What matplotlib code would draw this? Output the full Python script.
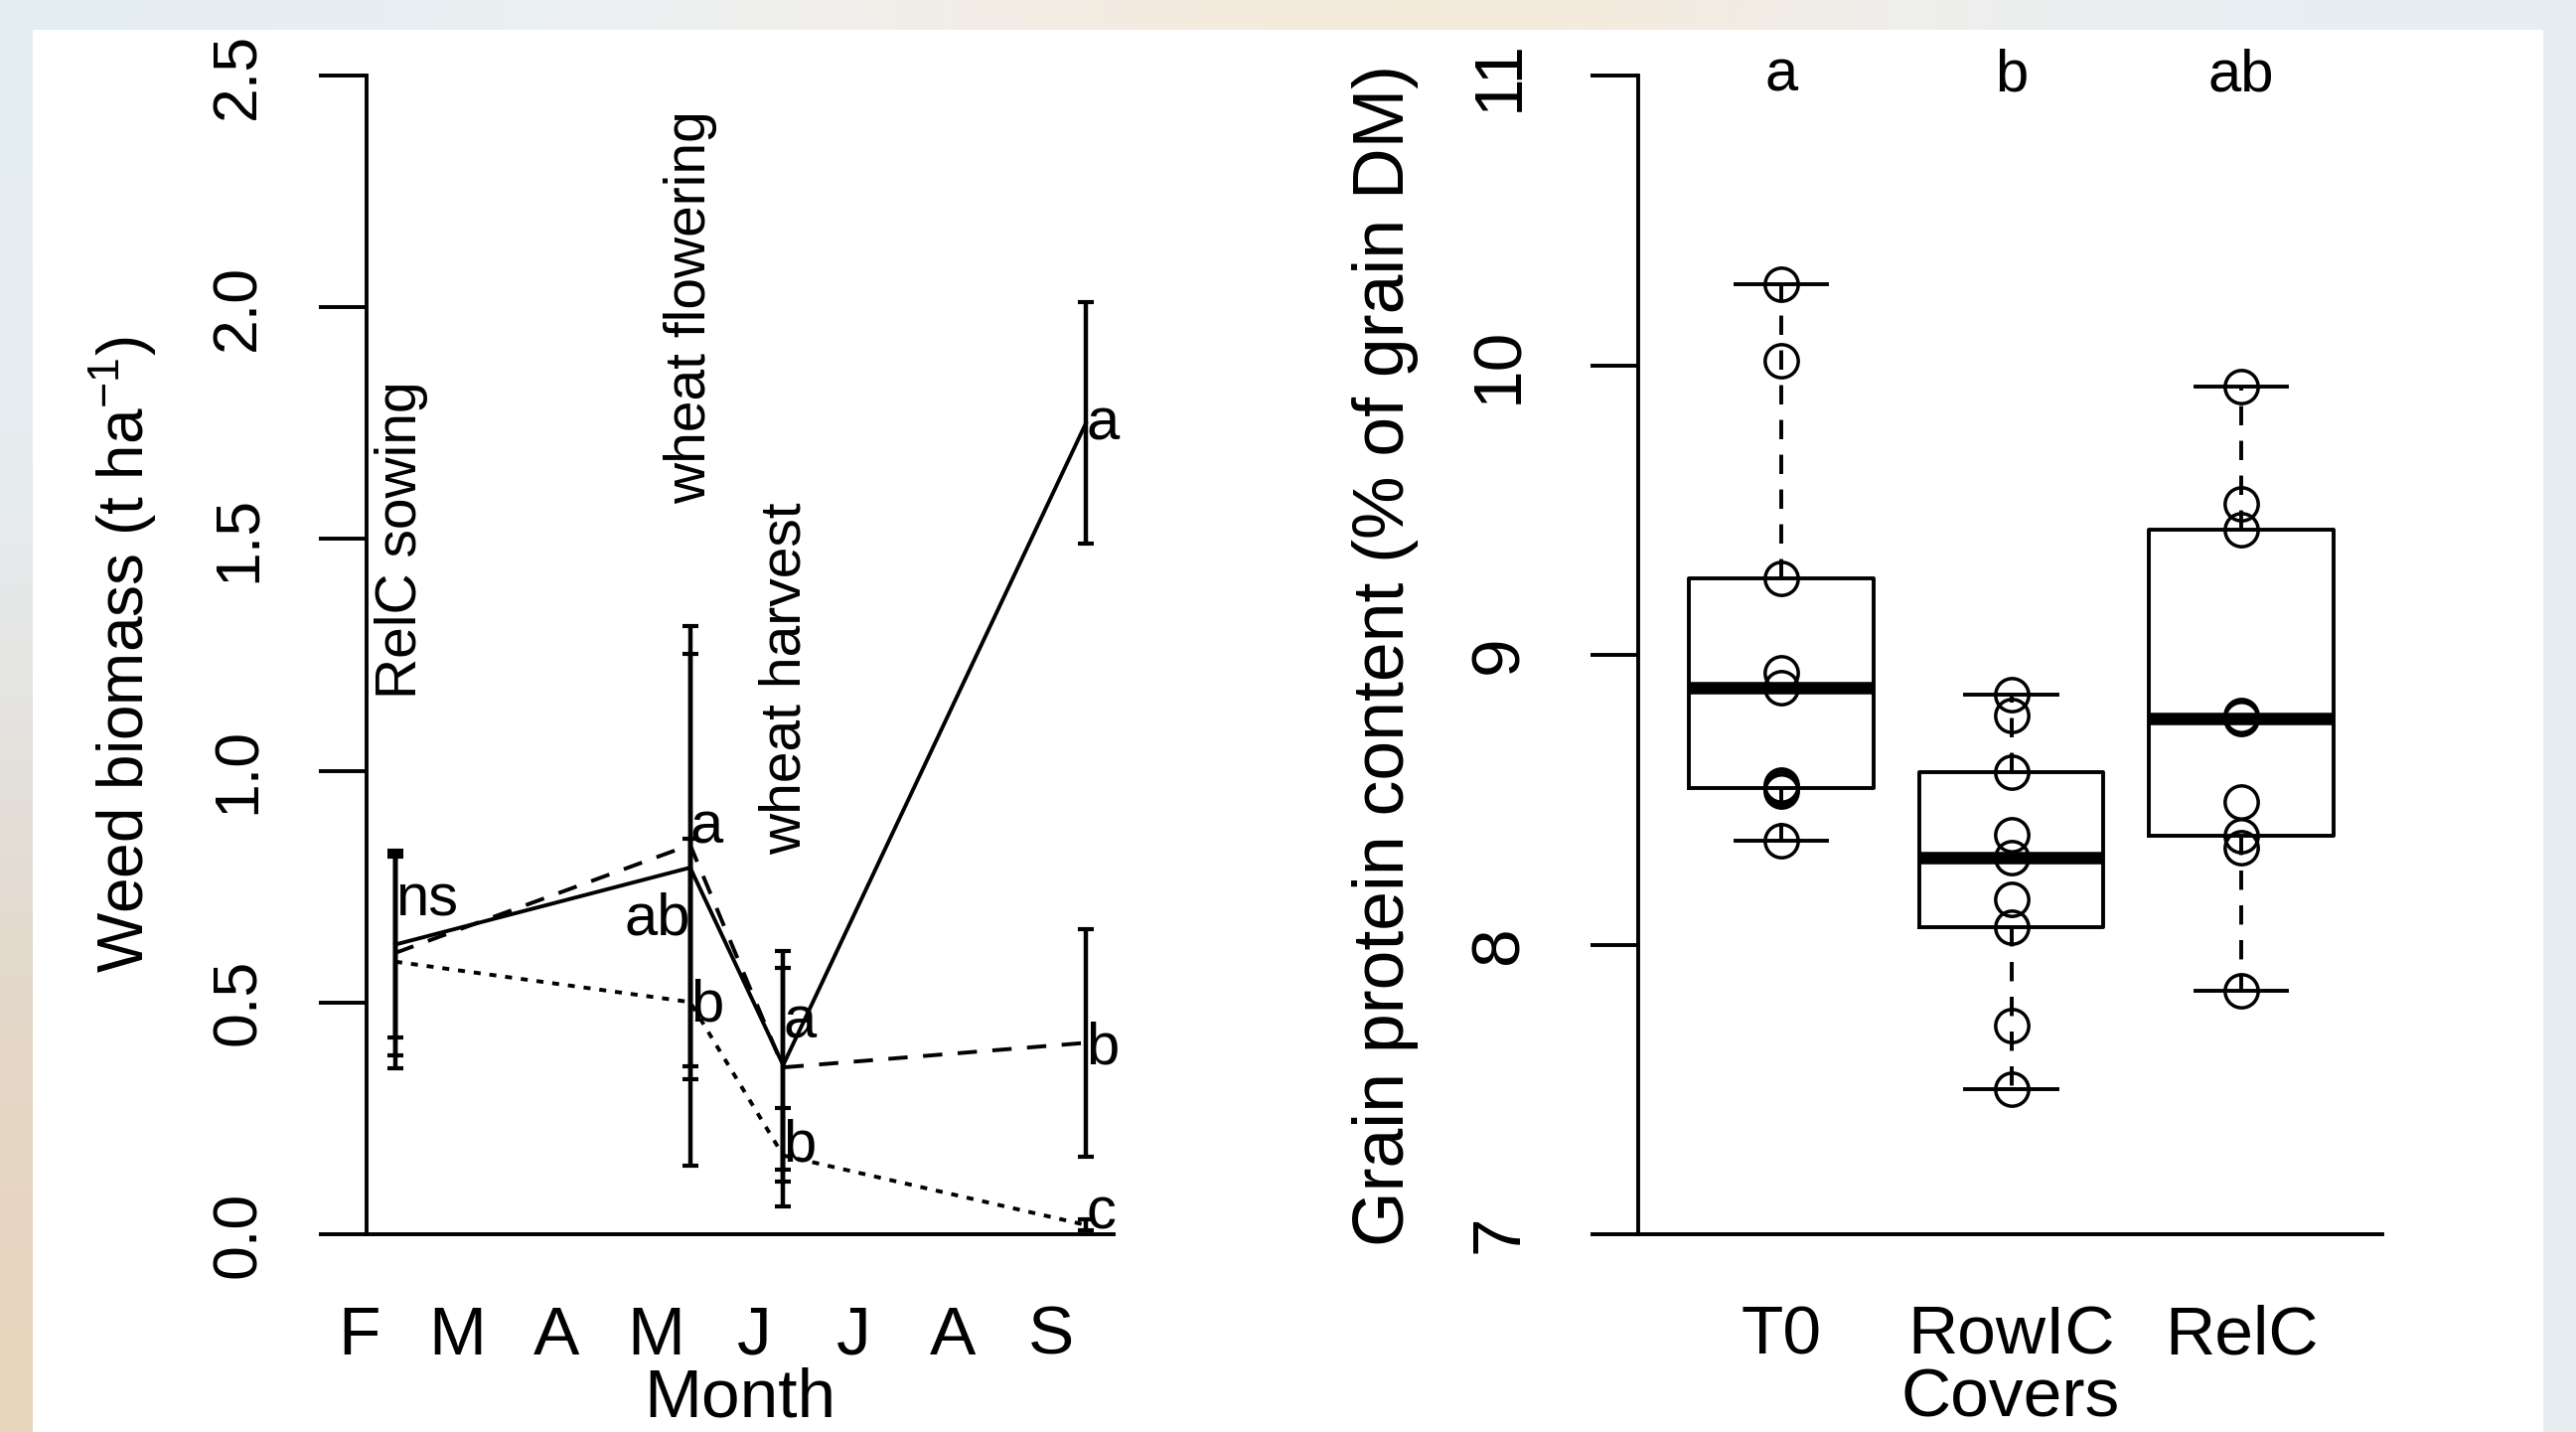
import numpy as np
import matplotlib
matplotlib.use('Agg')
import matplotlib.pyplot as plt
import matplotlib.colors as mcolors
from matplotlib.patches import Rectangle
from matplotlib.transforms import ScaledTranslation

plt.rcParams['font.family'] = ['Liberation Sans', 'DejaVu Sans']
plt.rcParams['mathtext.fontset'] = 'custom'
plt.rcParams['mathtext.rm'] = 'Liberation Sans'
plt.rcParams['mathtext.default'] = 'regular'

#weed biomass (left panel)
months = ['F', 'M', 'A', 'M', 'J', 'J', 'A', 'S']
month_pos = [2, 3, 4, 5, 6, 7, 8, 9]
dates = [2.29, 5.27, 6.21, 9.27]

solid_mean = [0.625, 0.791, 0.365, 1.750]
solid_lo = [0.424, 0.334, 0.114, 1.490]
solid_hi = [0.828, 1.253, 0.612, 2.012]

dashed_mean = [0.607, 0.840, 0.360, 0.413]
dashed_lo = [0.387, 0.362, 0.140, 0.167]
dashed_hi = [0.821, 1.313, 0.575, 0.659]

dotted_mean = [0.588, 0.501, 0.170, 0.020]
dotted_lo = [0.359, 0.148, 0.061, 0.008]
dotted_hi = [0.814, 0.854, 0.273, 0.032]

letter_txt = ['ns', 'a', 'ab', 'b', 'a', 'b', 'a', 'b', 'c']
letter_x = [2.29, 5.27, 5.27, 5.27, 6.21, 6.21, 9.27, 9.27, 9.27]
letter_y = [0.721, 0.876, 0.679, 0.493, 0.456, 0.19, 1.748, 0.40, 0.046]
letter_ha = ['left', 'left', 'right', 'left', 'left', 'left', 'left', 'left', 'left']

event_txt = ['RelC sowing', 'wheat flowering', 'wheat harvest']
event_x = [2.35, 5.27, 6.23]
event_y = [1.156, 1.575, 0.82]

left_yticks = [0, 0.5, 1.0, 1.5, 2.0, 2.5]
left_ylabels = ['0.0', '0.5', '1.0', '1.5', '2.0', '2.5']

#grain protein (right panel)
covers = ['T0', 'RowIC', 'RelC']
t0 = [10.28, 10.015, 9.263, 8.937, 8.886, 8.55, 8.54, 8.53, 8.358]
rowic = [8.862, 8.791, 8.594, 8.379, 8.299, 8.156, 8.061, 7.722, 7.501]
relc = [9.926, 9.52, 9.432, 8.79, 8.779, 8.493, 8.374, 8.334, 7.842]
cover_letters = ['a', 'b', 'ab']
right_yticks = [7, 8, 9, 10, 11]

W, H = 2593, 1441
fig = plt.figure(figsize=(W / 100, H / 100), dpi=100)

# slide background
bg = fig.add_axes([0, 0, 1, 1], zorder=-10)
bg_hex = [
	['#e4edf1', '#edf1f3', '#f3ece2', '#f7e8d4', '#eef0f0', '#e6eef2'],
	['#e8eef1', '#eef1f2', '#f2eee8', '#f3eee6', '#eef0f1', '#e7eef2'],
	['#e0d8ce', '#ece6dd', '#eeeae4', '#eeece8', '#edf0f1', '#e7eef2'],
	['#e8d5bd', '#ecdcc6', '#eee6da', '#eeeae4', '#ecf0f1', '#e7eef2'],
]
bg_rgb = np.array([[mcolors.to_rgb(c) for c in row] for row in bg_hex])
bg.imshow(bg_rgb, aspect='auto', interpolation='bicubic', extent=[0, 1, 0, 1])
bg.add_patch(Rectangle((33 / W, 0), (2560 - 33) / W, (H - 30) / H, transform=bg.transAxes,
	facecolor='white', edgecolor='none'))
bg.set_xlim(0, 1)
bg.set_ylim(0, 1)
bg.axis('off')

lw = 2.8

# ---- left panel ----
ax1 = fig.add_axes([369 / W, 199 / H, 752 / W, 1166 / H])
ax1.patch.set_alpha(0)

series = [
	(solid_mean, solid_lo, solid_hi, '-'),
	(dashed_mean, dashed_lo, dashed_hi, (0, (5, 4))),
	(dotted_mean, dotted_lo, dotted_hi, (0, (1.8, 2.3))),
]
for mean, lo, hi, ls in series:
	yerr = [np.subtract(mean, lo), np.subtract(hi, mean)]
	ax1.errorbar(dates, mean, yerr=yerr, fmt='none', ecolor='black', elinewidth=3.2,
		capsize=5.5, capthick=3, clip_on=False)
	ax1.plot(dates, mean, color='black', lw=lw, linestyle=ls, clip_on=False)

for t, x, y, ha in zip(letter_txt, letter_x, letter_y, letter_ha):
	ax1.text(x, y, t, ha=ha, va='center', fontsize=43)

for t, x, y in zip(event_txt, event_x, event_y):
	ax1.text(x, y, t, rotation=90, ha='center', va='bottom', fontsize=41)

ax1.spines['top'].set_visible(False)
ax1.spines['right'].set_visible(False)
ax1.spines['left'].set_linewidth(lw)
ax1.spines['bottom'].set_linewidth(lw)
ax1.set_xticks(month_pos, months)
ax1.set_yticks(left_yticks, left_ylabels)
ax1.set_xlim(2, 9.55)
ax1.set_ylim(0, 2.5)
ax1.tick_params(axis='x', length=0, pad=51, labelsize=50)
ax1.tick_params(axis='y', length=34.5, width=lw, pad=37, labelsize=45, direction='out')
# month letters sit a little left of the tick positions
shift = ScaledTranslation(-0.08, 0, fig.dpi_scale_trans)
for lab in ax1.get_xticklabels():
	lab.set_transform(lab.get_transform() + shift)
for lab in ax1.get_yticklabels():
	lab.set_rotation(90)
	lab.set_va('center')
ax1.text(-0.326, 0.5, 'Weed biomass (t ha$^{-1}$)', rotation=90, ha='center', va='center',
	transform=ax1.transAxes, fontsize=46)
ax1.text(0.5, -0.1698, 'Month', ha='center', va='bottom', transform=ax1.transAxes, fontsize=50)

# ---- right panel ----
ax2 = fig.add_axes([1649 / W, 199 / H, 749 / W, 1166 / H])
ax2.patch.set_alpha(0)
pos = [1, 2, 3]
ax2.boxplot([t0, rowic, relc], positions=pos, widths=0.8, capwidths=0.4, showfliers=False,
	boxprops=dict(color='black', lw=lw),
	medianprops=dict(color='black', lw=9, solid_capstyle='butt'),
	whiskerprops=dict(color='black', lw=lw, linestyle=(0, (5, 4))),
	capprops=dict(color='black', lw=lw))
for p, vals in zip(pos, [t0, rowic, relc]):
	ax2.plot([p] * len(vals), vals, 'o', mfc='none', mec='black', ms=24, mew=2.5, zorder=3)
for p, t in zip(pos, cover_letters):
	ax2.text(p, 11, t, ha='center', va='center', fontsize=43, clip_on=False)

ax2.spines['top'].set_visible(False)
ax2.spines['right'].set_visible(False)
ax2.spines['left'].set_linewidth(lw)
ax2.spines['bottom'].set_linewidth(lw)
ax2.set_xticks(pos, covers)
ax2.set_yticks(right_yticks, [str(v) for v in right_yticks])
ax2.set_xlim(0.378, 3.613)
ax2.set_ylim(7, 11)
ax2.tick_params(axis='x', length=0, pad=51, labelsize=50)
ax2.tick_params(axis='y', length=34.5, width=lw, pad=43, labelsize=50, direction='out')
for lab in ax2.get_yticklabels():
	lab.set_rotation(90)
	lab.set_va('center')
ax2.text(-0.340, 0.5, 'Grain protein content (% of grain DM)', rotation=90, ha='center',
	va='center', transform=ax2.transAxes, fontsize=51.5)
ax2.text(0.5, -0.1698, 'Covers', ha='center', va='bottom', transform=ax2.transAxes, fontsize=50)

fig.savefig('out.png', dpi=100)
